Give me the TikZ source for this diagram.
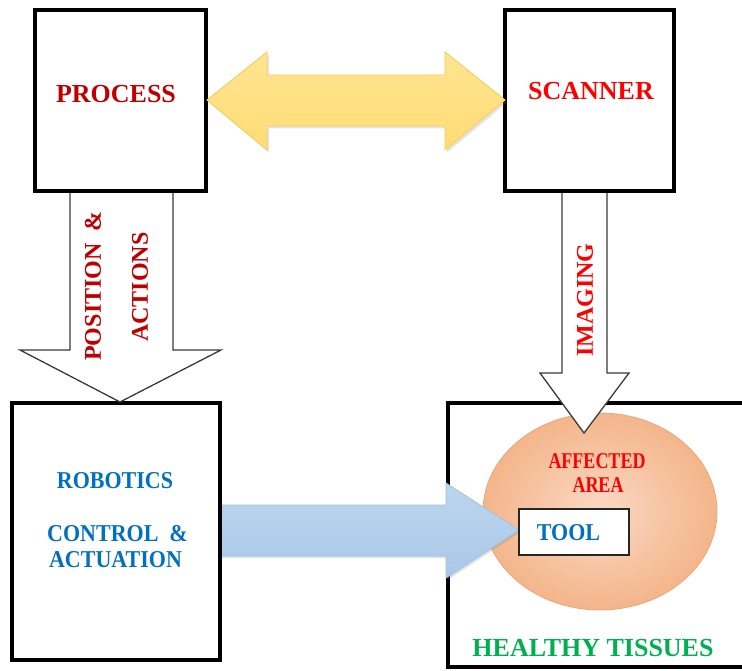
\documentclass[tikz,border=0pt]{standalone}
\usepackage{fontspec}
\setmainfont{Liberation Serif}
\usetikzlibrary{shadows,shapes.geometric}
\definecolor{procred}{HTML}{C00000}
\definecolor{brightred}{HTML}{FF0000}
\definecolor{ctrlblue}{HTML}{0070C0}
\definecolor{tissuegreen}{HTML}{00B050}
\definecolor{goldedge}{HTML}{F5CF5C}
\definecolor{goldtop}{HTML}{FFE592}
\definecolor{goldmid}{HTML}{FFF3D0}
\definecolor{goldbot}{HTML}{FFDC74}
\definecolor{blueedge}{HTML}{9DC3E6}
\definecolor{bluetop}{HTML}{BDD6EE}
\definecolor{bluemid}{HTML}{DFEBF7}
\definecolor{bluebot}{HTML}{A9C8E8}
\definecolor{peachin}{HTML}{FAD9C5}
\definecolor{peachout}{HTML}{F4B58A}
\definecolor{peachedge}{HTML}{EAA87C}
\definecolor{arrowgray}{HTML}{3A3A3A}
\begin{document}
\begin{tikzpicture}[x=1pt,y=-1pt,
  blockbox/.style={draw=black, line width=4pt, fill=white, inner sep=0pt},
  whitearrow/.style={draw=arrowgray, line width=1.3pt, fill=white, line join=miter},
  lbl/.style={inner sep=0pt, font=\bfseries\fontsize{#1}{#1}\selectfont}]
\useasboundingbox (0,0) rectangle (742,671);

% tissue frame, open towards the right edge
\draw[line width=4pt, line join=miter] (744,403) -- (448,403) -- (448,667) -- (744,667);
\node[inner sep=0pt] (tissue) at (595,535) {};

% affected area
\node[ellipse, draw=peachedge, line width=0.8pt, inner color=peachin, outer color=peachout,
  minimum width=234pt, minimum height=197pt, inner sep=0pt] (area) at (600,511.5) {};

% actuation arrow towards the tool
\shade[top color=bluetop, middle color=bluemid, bottom color=bluebot,
  drop shadow={shadow xshift=1.5pt, shadow yshift=-2pt, opacity=0.25}]
  (219,505) -- (446,505) -- (446,483) -- (519,530) -- (446,578) -- (446,556) -- (219,556) -- cycle;
\draw[blueedge, line width=0.8pt, line join=miter]
  (219,505) -- (446,505) -- (446,483) -- (519,530) -- (446,578) -- (446,556) -- (219,556);

% robotics block
\node[blockbox, minimum width=208pt, minimum height=257pt] (robotics) at (116,531.5) {};

% tool
\node[draw=black!85, line width=1.5pt, fill=white, minimum width=110pt, minimum height=46pt,
  inner sep=0pt] (tool) at (574,532) {};

% white block arrows
\draw[whitearrow] (70,191) -- (70,350) -- (20,350) -- (120,402) -- (221,350) -- (173,350) -- (173,191);
\draw[whitearrow] (562,191) -- (562,373) -- (540,373) -- (584,433) -- (629,373) -- (607,373) -- (607,191);

% process and scanner blocks
\node[blockbox, minimum width=171pt, minimum height=181pt] (process) at (120.5,100.5) {};
\node[blockbox, minimum width=169pt, minimum height=181pt] (scanner) at (589.5,100.5) {};

% exchange between process and scanner
\shade[top color=goldtop, middle color=goldmid, bottom color=goldbot,
  drop shadow={shadow xshift=2pt, shadow yshift=-2.5pt, opacity=0.22}]
  (207,100) -- (267,52) -- (267,75) -- (445,75) -- (445,52) -- (505,100)
  -- (445,150) -- (445,126) -- (267,126) -- (267,150) -- cycle;
\draw[goldedge, line width=0.9pt, line join=miter]
  (207,100) -- (267,52) -- (267,75) -- (445,75) -- (445,52) -- (505,100)
  -- (445,150) -- (445,126) -- (267,126) -- (267,150) -- cycle;

% labels
\node[lbl=26pt, text=procred] (tprocess) at (116,94) {PROCESS};
\node[lbl=26pt, text=brightred] (tscanner) at (591,91.5) {SCANNER};
\node[lbl=24pt, text=procred, rotate=90] (tposition) at (93,286) {POSITION\ \ \&};
\node[lbl=24pt, text=procred, rotate=90] (tactions) at (140,287) {ACTIONS};
\node[lbl=24pt, text=brightred, rotate=90] (timaging) at (585,300) {IMAGING};
\node[lbl=22pt, text=ctrlblue, yscale=1.1] (trobotics) at (115,481) {ROBOTICS};
\node[lbl=22pt, text=ctrlblue, yscale=1.1] (tcontrol) at (117.5,534) {CONTROL\ \ \&};
\node[lbl=22pt, text=ctrlblue, yscale=1.1] (tactuation) at (115.5,560) {ACTUATION};
\node[lbl=18pt, text=brightred, yscale=1.25] (taffected) at (597,461) {AFFECTED};
\node[lbl=18pt, text=brightred, yscale=1.25] (tarea) at (598,485) {AREA};
\node[lbl=22pt, text=ctrlblue, yscale=1.1] (ttool) at (568.5,533) {TOOL};
\node[lbl=26pt, text=tissuegreen] (ttissue) at (593,648) {HEALTHY TISSUES};
\end{tikzpicture}
\end{document}
